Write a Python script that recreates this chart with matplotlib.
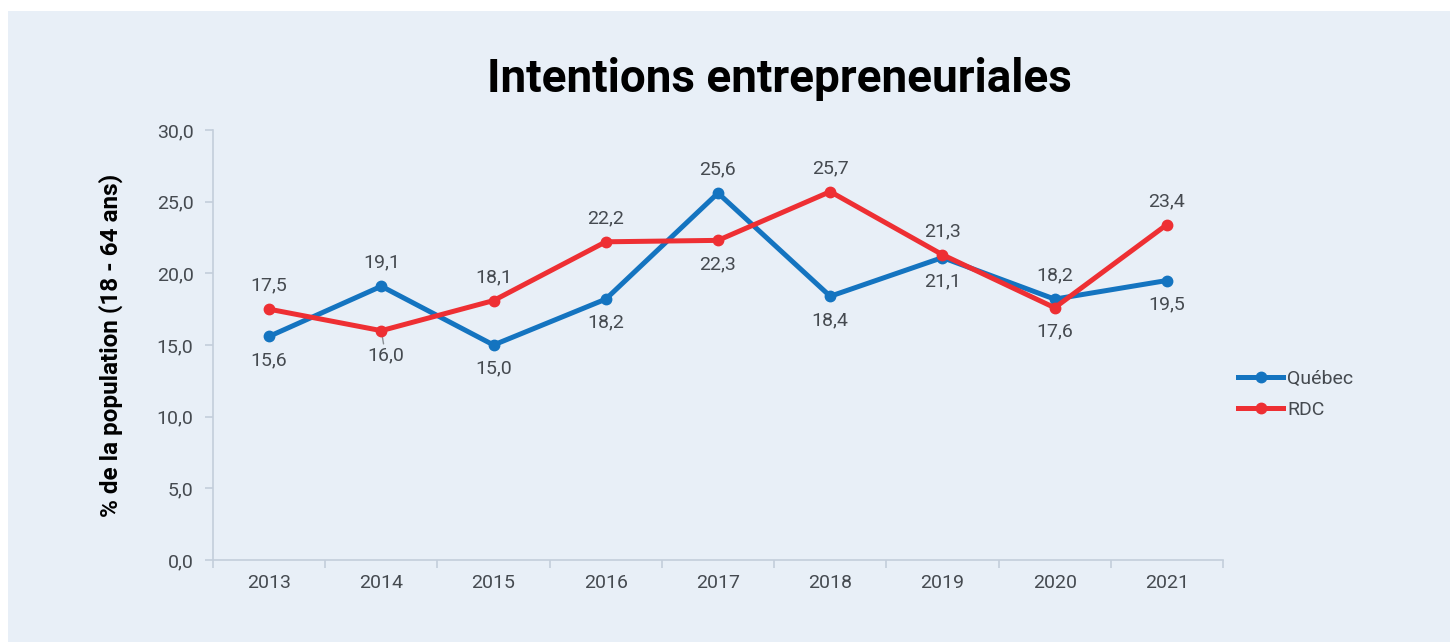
import matplotlib.pyplot as plt
from matplotlib.patches import Rectangle
import numpy as np

years = ['2013', '2014', '2015', '2016', '2017', '2018', '2019', '2020', '2021']
quebec = [15.6, 19.1, 15.0, 18.2, 25.6, 18.4, 21.1, 18.2, 19.5]
rdc = [17.5, 16.0, 18.1, 22.2, 22.3, 25.7, 21.3, 17.6, 23.4]
# label placement: +1 above, -1 below
quebec_pos = [-1, 1, -1, -1, 1, -1, -1, 1, -1]
rdc_pos = [1, -1, 1, 1, -1, 1, 1, -1, 1]

bg = '#e8eff7'
blue = '#1474c0'
red = '#ee2f33'
txt = '#454a50'
axcol = '#c3cedb'

plt.rcParams['font.family'] = ['Roboto', 'DejaVu Sans']

fig = plt.figure(figsize=(14.5, 6.42), dpi=100)
fig.patch.set_facecolor('white')
fig.patches.append(Rectangle((8 / 1450, 0), 1, 1 - 11 / 642, transform=fig.transFigure,
                             facecolor=bg, edgecolor='none', zorder=-10))

ax = fig.add_axes([213 / 1450, 1 - 560 / 642, 1010 / 1450, 430 / 642])
ax.set_facecolor(bg)

x = np.arange(len(years))
ax.plot(x, quebec, color=blue, lw=3.6, marker='o', ms=7.5, label='Québec', zorder=3)
ax.plot(x, rdc, color=red, lw=3.6, marker='o', ms=7.5, label='RDC', zorder=4)

def fmt(v):
    return f'{v:.1f}'.replace('.', ',')

for series, pos in ((quebec, quebec_pos), (rdc, rdc_pos)):
    for i, (v, p) in enumerate(zip(series, pos)):
        if series is rdc and i == 1:
            # leader line for the 16,0 label
            ax.annotate(fmt(v), xy=(i, v), xytext=(3, -18), textcoords='offset points',
                        ha='center', va='center', fontsize=14, color=txt,
                        arrowprops=dict(arrowstyle='-', color='#8a8f95', lw=1,
                                        shrinkA=0, shrinkB=2))
            continue
        ax.annotate(fmt(v), xy=(i, v), xytext=(0, 17 * p), textcoords='offset points',
                    ha='center', va='center', fontsize=14, color=txt)

ax.set_xlim(-0.5, len(years) - 0.5)
ax.set_ylim(0, 30)
ax.set_yticks(np.arange(0, 31, 5))
ax.set_yticklabels([fmt(v) for v in np.arange(0, 31, 5)])
ax.set_xticks(x)
ax.set_xticklabels(years)
ax.set_xticks(np.arange(-0.5, len(years)), minor=True)

for s in ('top', 'right'):
    ax.spines[s].set_visible(False)
for s in ('left', 'bottom'):
    ax.spines[s].set_color(axcol)
    ax.spines[s].set_linewidth(1.2)

ax.tick_params(axis='y', colors=axcol, labelcolor=txt, labelsize=14, length=6, width=1.2, pad=8)
ax.tick_params(axis='x', which='major', length=0, labelcolor=txt, labelsize=14, pad=10)
ax.tick_params(axis='x', which='minor', colors=axcol, length=6, width=1.2)

ax.set_ylabel('% de la population (18 - 64 ans)', fontsize=17.5, fontweight='bold',
              color='black', labelpad=24)

fig.text(779 / 1450, 1 - 79 / 642, 'Intentions entrepreneuriales', ha='center', va='center',
         fontsize=33, fontweight='bold', color='black')

leg = ax.legend(loc='center left', bbox_to_anchor=(0.998, 0.385), frameon=False,
                fontsize=14, handlelength=2.3, labelspacing=0.65, handletextpad=0.2)
for t in leg.get_texts():
    t.set_color(txt)

fig.savefig('out.png', dpi=100, facecolor=fig.get_facecolor())
